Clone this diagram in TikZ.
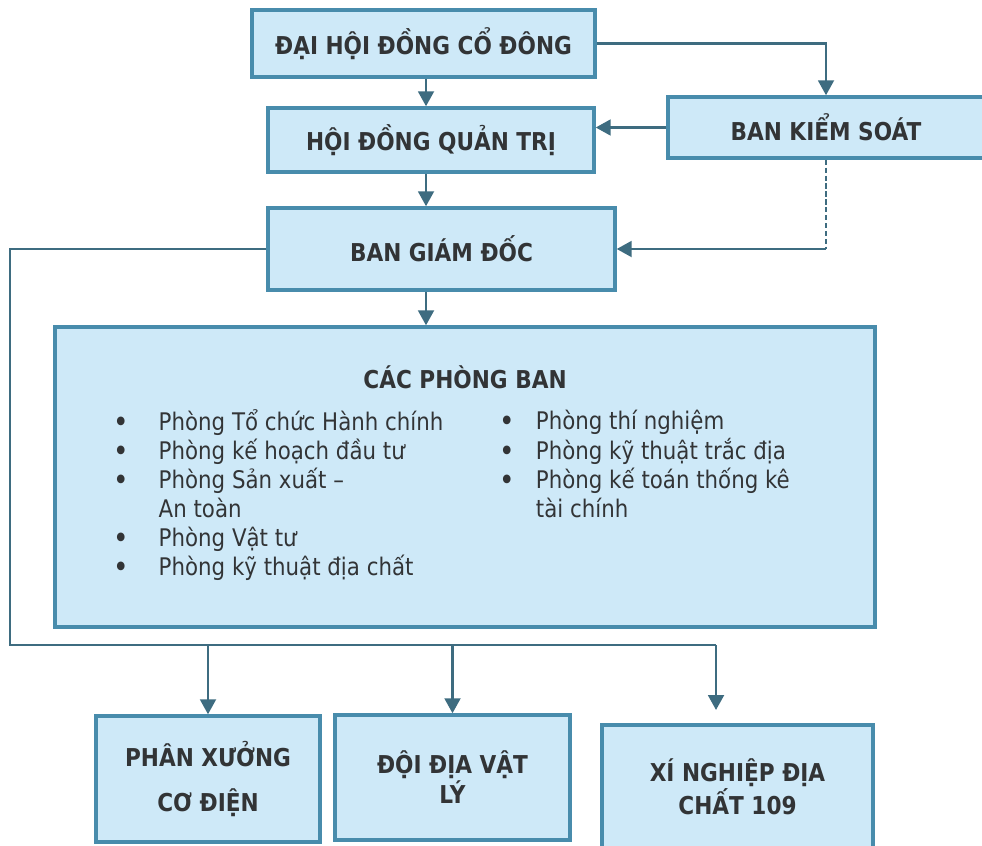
\documentclass[tikz,border=0pt]{standalone}
\usepackage{fontspec}
\setmainfont{DejaVu Sans}[FakeStretch=0.88]
\usetikzlibrary{arrows.meta}

\definecolor{boxfill}{RGB}{206,233,248}
\definecolor{boxline}{RGB}{72,140,172}
\definecolor{arrline}{RGB}{62,108,128}
\definecolor{txt}{RGB}{50,52,54}

\newcommand{\pbul}{\raisebox{-1.2pt}{\fontsize{17}{16.4}\selectfont •}}

\tikzset{
  box/.style={draw=boxline, fill=boxfill, line width=2pt, text=txt, align=center,
    inner sep=0pt, font=\fontsize{14}{17}\selectfont\bfseries},
  line/.style={draw=arrline, line width=1.4pt},
  arr/.style={line, -{Triangle[length=8.5pt,width=9pt]}},
  listtext/.style={anchor=north west, inner sep=0pt, text=txt,
    font=\fontsize{13.8}{16.4}\selectfont},
}

\begin{document}
\begin{tikzpicture}[x=0.02cm, y=-0.02cm]
  \useasboundingbox (0,0) rectangle (982,845);

  % upper levels
  \node[box, minimum width=6.86cm, minimum height=1.34cm] (dhdcd) at (423.5,43.5) {ĐẠI HỘI ĐỒNG CỔ ĐÔNG};
  \node[box, minimum width=6.52cm, minimum height=1.28cm] (hdqt) at (431,140) {HỘI ĐỒNG QUẢN TRỊ};
  \node[box, minimum width=6.32cm, minimum height=1.22cm] (bks) at (826,127.5) {BAN KIỂM SOÁT};
  \node[box, minimum width=6.94cm, minimum height=1.64cm] (bgd) at (441.5,249) {BAN GIÁM ĐỐC};

  % departments
  \node[box, minimum width=16.4cm, minimum height=6cm] (cpb) at (465,477) {};
  \node[text=txt, font=\fontsize{14}{17}\selectfont\bfseries] (cpbtitle) at (465,377) {CÁC PHÒNG BAN};
  \node[listtext] (listL) at (113,409) {\begin{tabular}{@{}l@{\hspace{17pt}}l@{}}
    \pbul & Phòng Tổ chức Hành chính\\
    \pbul & Phòng kế hoạch đầu tư\\
    \pbul & Phòng Sản xuất –\\
          & An toàn\\
    \pbul & Phòng Vật tư\\
    \pbul & Phòng kỹ thuật địa chất
  \end{tabular}};
  \node[listtext] (listR) at (499,409) {\begin{tabular}{@{}l@{\hspace{12pt}}l@{}}
    \pbul & Phòng thí nghiệm\\
    \pbul & Phòng kỹ thuật trắc địa\\
    \pbul & Phòng kế toán thống kê\\
          & tài chính
  \end{tabular}};

  % units
  \node[box, minimum width=4.48cm, minimum height=2.52cm] (px) at (208,779) {PHÂN XƯỞNG\\[8.5pt]CƠ ĐIỆN};
  \node[box, minimum width=4.70cm, minimum height=2.5cm] (dvl) at (452.5,777.5) {ĐỘI ĐỊA VẬT\\LÝ};
  \node[box, minimum width=5.42cm, minimum height=2.46cm] (xn) at (737.5,786.5) {XÍ NGHIỆP ĐỊA\\CHẤT 109};

  \coordinate (spine) at (426,0);
  \coordinate (busL) at (10,645);
  \coordinate (busR) at (716,645);
  \coordinate (xnin) at (716,710);

  \draw[arr] (dhdcd.east) -| (bks.north);
  \draw[arr] (dhdcd.south -| spine) -- (hdqt.north -| spine);
  \draw[arr] (bks.west) -- (bks.west -| hdqt.east);
  \draw[arr] (hdqt.south -| spine) -- (bgd.north -| spine);
  \draw[draw=arrline, line width=0.7pt, dash pattern=on 3pt off 1.5pt] (bks.south) -- (bks.south |- bgd.east);
  \draw[arr] (bks.south |- bgd.east) -- (bgd.east);
  \draw[arr] (bgd.south -| spine) -- (cpb.north -| spine);

  % line to the units
  \draw[line] (bgd.west) -| (busL) -- (busR);
  \draw[arr] (px.north |- busL) -- (px.north);
  \draw[arr] (dvl.north |- busL) -- (dvl.north);
  \draw[arr] (busR) -- (xnin);
\end{tikzpicture}
\end{document}
